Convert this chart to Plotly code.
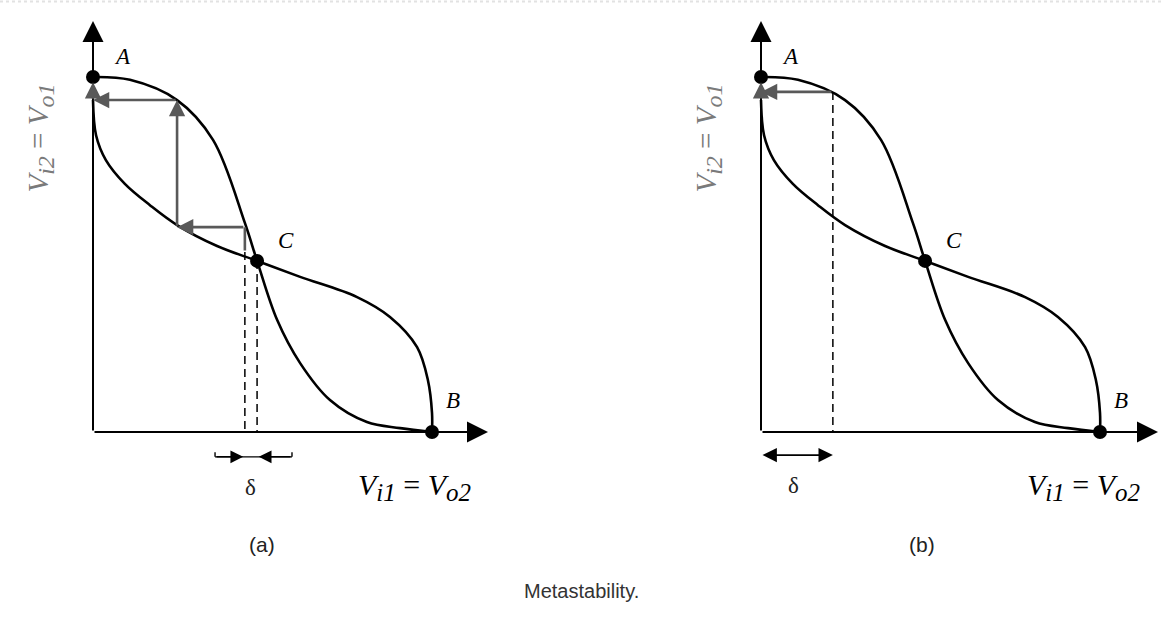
import plotly.graph_objects as go

# ---- transfer curves in unit coordinates (0..1 on both axes) ----
# inverter 1: steep curve from A through C to B
steep_x = [0.0, 0.109, 0.248, 0.354, 0.448, 0.484, 0.543, 0.611, 0.699, 0.808, 0.906, 1.0]
steep_y = [1.0, 0.992, 0.935, 0.823, 0.589, 0.482, 0.316, 0.194, 0.090, 0.028, 0.011, 0.0]
# inverter 2 (mirrored): leaves the vertical axis just below A, passes C, drops into B
flat_x = [0.0, 0.009, 0.038, 0.094, 0.168, 0.248, 0.366, 0.484, 0.611, 0.779, 0.876, 0.956, 0.988, 1.0, 1.0]
flat_y = [0.935, 0.836, 0.766, 0.699, 0.639, 0.583, 0.524, 0.482, 0.437, 0.380, 0.324, 0.239, 0.146, 0.054, 0.0]

# operating points
pt_names = ["A", "C", "B"]
pt_x = [0.0, 0.484, 1.0]
pt_y = [1.0, 0.482, 0.0]

# (a) trajectory starting just left of C
traj_a_x = [0.448, 0.448, 0.248, 0.248, 0.0, 0.0]
traj_a_y = [0.507, 0.577, 0.577, 0.935, 0.935, 0.985]
# (a) initial voltage window
delta_a = [0.448, 0.484]
delta_a_span = [0.360, 0.587]

# (b) trajectory starting far from C
traj_b_x = [0.212, 0.0, 0.0]
traj_b_y = [0.958, 0.958, 0.985]
delta_b = [0.0, 0.212]

panel_tags = ["(a)", "(b)"]
caption = "Metastability."

BLACK = "#000000"
GRAY = "#595959"
SERIF = "Liberation Serif, Times New Roman, serif"
SANS = "Liberation Sans, Arial, sans-serif"

W, H = 1162, 622
# unit -> pixel scale for each axis
SX, SY = 339.0, 355.0
ORIG_Y = 432.0
panel_origin = [93.0, 761.0]
panel_left = [0.0, 581.0]
panel_right = [560.0, 1162.0]


def volt_label(a, b, sub_px):
    # italic V with near-full-size subscripts
    s = lambda t: f"<sub><span style='font-size:{sub_px}px'><i>{t}</i></span></sub>"
    return f"<i>V</i>{s(a)} = <i>V</i>{s(b)}"


fig = go.Figure()
layout = dict(
    width=W, height=H, margin=dict(l=0, r=0, t=0, b=0),
    plot_bgcolor="white", paper_bgcolor="white", showlegend=False,
)
yr = [-(H - ORIG_Y) / SY, ORIG_Y / SY]
for i in range(2):
    sfx = "" if i == 0 else str(i + 1)
    x0 = panel_origin[i]
    layout["xaxis" + sfx] = dict(
        domain=[panel_left[i] / W, panel_right[i] / W],
        range=[-(x0 - panel_left[i]) / SX, (panel_right[i] - x0) / SX],
        visible=False, anchor="y" + sfx, fixedrange=True,
    )
    layout["yaxis" + sfx] = dict(
        domain=[0, 1], range=yr, visible=False, anchor="x" + sfx, fixedrange=True,
    )
fig.update_layout(**layout)

annotations = []
shapes = []

for i in range(2):
    xa = "x" if i == 0 else "x2"
    ya = "y" if i == 0 else "y2"

    # transfer curves
    for cx, cy in ((steep_x, steep_y), (flat_x, flat_y)):
        fig.add_trace(go.Scatter(
            x=cx, y=cy, mode="lines", xaxis=xa, yaxis=ya,
            line=dict(color=BLACK, width=2.6, shape="spline", smoothing=1.0),
            hoverinfo="skip",
        ))

    # axes with arrow tips
    x_tip = (488.0 - 93.0) / SX if i == 0 else (1158.0 - 761.0) / SX
    y_tip = (ORIG_Y - 21.0) / SY
    for (ex, ey) in ((x_tip, 0.0), (0.0, y_tip)):
        annotations.append(dict(
            xref=xa, yref=ya, axref=xa, ayref=ya, x=ex, y=ey, ax=0.0, ay=0.0,
            showarrow=True, arrowhead=2, arrowsize=2.1, arrowwidth=2,
            arrowcolor=BLACK, text="", standoff=0, startstandoff=0,
        ))

    # operating points
    fig.add_trace(go.Scatter(
        x=pt_x, y=pt_y, mode="markers", xaxis=xa, yaxis=ya,
        marker=dict(color=BLACK, size=14), hoverinfo="skip",
    ))
    offs = {"A": (29, 21), "C": (29, 20), "B": (21, 32)}
    for name, px, py in zip(pt_names, pt_x, pt_y):
        dx, dy = offs[name]
        annotations.append(dict(
            xref=xa, yref=ya, x=px, y=py, xshift=dx, yshift=dy, showarrow=False,
            text=f"<i>{name}</i>", font=dict(family=SERIF, size=23, color=BLACK),
        ))

    # axis titles
    annotations.append(dict(
        xref=xa, yref=ya, x=-0.155, y=0.828, showarrow=False, textangle=-90,
        text=volt_label("i2", "o1", 24),
        font=dict(family=SERIF, size=29, color="#7a7a7a"),
    ))
    annotations.append(dict(
        xref=xa, yref=ya, x=0.947 if i == 0 else 0.950, y=-0.155, showarrow=False,
        text=volt_label("i1", "o2", 25),
        font=dict(family=SERIF, size=30, color=BLACK),
    ))
    annotations.append(dict(
        xref=xa, yref=ya, x=0.499 if i == 0 else 0.475, y=-0.318, showarrow=False,
        text=panel_tags[i], font=dict(family=SANS, size=21, color="#222222"),
    ))


def gray_segments(xa, ya, xs, ys):
    # each leg of the trajectory ends in an arrow tip
    for k in range(len(xs) - 1):
        head = 0 if k == 0 and len(xs) > 3 else 2
        annotations.append(dict(
            xref=xa, yref=ya, axref=xa, ayref=ya,
            x=xs[k + 1], y=ys[k + 1], ax=xs[k], ay=ys[k],
            showarrow=True, arrowhead=head, arrowsize=1.25, arrowwidth=2.6,
            arrowcolor=GRAY, text="", standoff=0, startstandoff=0,
        ))


# ---- panel (a) ----
gray_segments("x", "y", traj_a_x, traj_a_y)
for k, dx in enumerate(delta_a):
    top = traj_a_y[0] if k == 0 else pt_y[1]
    fig.add_trace(go.Scatter(
        x=[dx, dx], y=[top, 0.0], mode="lines", xaxis="x", yaxis="y",
        line=dict(color=BLACK, width=1.5, dash="8px,5px"), hoverinfo="skip",
    ))
dy_a = -0.070
fig.add_trace(go.Scatter(
    x=delta_a_span, y=[dy_a, dy_a], mode="lines", xaxis="x", yaxis="y",
    line=dict(color=BLACK, width=1.4), hoverinfo="skip",
))
for ex in delta_a_span:
    fig.add_trace(go.Scatter(
        x=[ex, ex], y=[dy_a, dy_a + 0.013], mode="lines", xaxis="x", yaxis="y",
        line=dict(color=BLACK, width=1.4), hoverinfo="skip",
    ))
for tip, tail in ((delta_a[0] - 0.005, delta_a_span[0]), (delta_a[1] + 0.005, delta_a_span[1])):
    annotations.append(dict(
        xref="x", yref="y", axref="x", ayref="y", x=tip, y=dy_a, ax=tail, ay=dy_a,
        showarrow=True, arrowhead=2, arrowsize=1.7, arrowwidth=1.5,
        arrowcolor=BLACK, text="", standoff=0,
    ))
annotations.append(dict(
    xref="x", yref="y", x=0.466, y=-0.155, showarrow=False, text="δ",
    font=dict(family=SERIF, size=23, color="#222222"),
))

# ---- panel (b) ----
gray_segments("x2", "y2", traj_b_x, traj_b_y)
fig.add_trace(go.Scatter(
    x=[traj_b_x[0], traj_b_x[0]], y=[traj_b_y[0], 0.0], mode="lines",
    xaxis="x2", yaxis="y2",
    line=dict(color=BLACK, width=1.5, dash="8px,5px"), hoverinfo="skip",
))
dy_b = -0.065
annotations.append(dict(
    xref="x2", yref="y2", axref="x2", ayref="y2",
    x=delta_b[1], y=dy_b, ax=delta_b[0], ay=dy_b,
    showarrow=True, arrowhead=2, startarrowhead=2, arrowside="end+start",
    arrowsize=1.6, startarrowsize=1.6, arrowwidth=1.8,
    arrowcolor=BLACK, text="", standoff=0, startstandoff=0,
))
annotations.append(dict(
    xref="x2", yref="y2", x=0.097, y=-0.152, showarrow=False, text="δ",
    font=dict(family=SERIF, size=23, color="#222222"),
))

# caption
annotations.append(dict(
    xref="paper", yref="paper", x=0.5, y=(H - 604) / H, showarrow=False,
    text=caption, font=dict(family=SANS, size=20, color="#333333"),
))

# faint dotted rule along the top edge
shapes.append(dict(
    type="line", xref="paper", yref="paper", x0=0, x1=1, y0=1 - 1.5 / H, y1=1 - 1.5 / H,
    line=dict(color="#e2e2e2", width=2, dash="dot"),
))

fig.update_layout(annotations=annotations, shapes=shapes)
fig.write_html("out.html")
